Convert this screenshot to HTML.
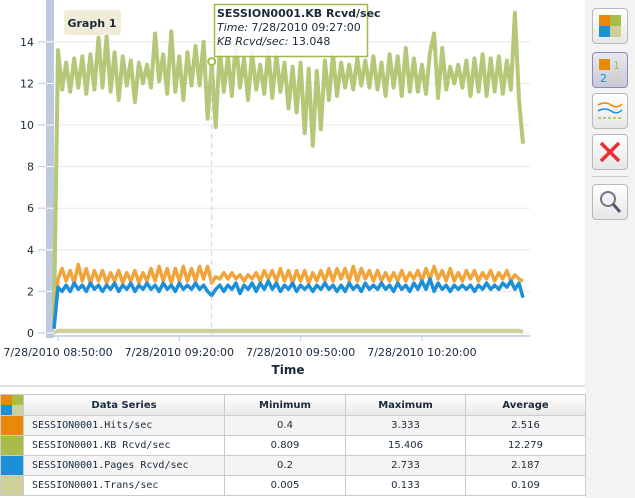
<!DOCTYPE html>
<html><head><meta charset="utf-8">
<style>
body{margin:0;width:635px;height:498px;overflow:hidden;background:#fff;font-family:"DejaVu Sans","Liberation Sans",sans-serif;}
#tb{position:absolute;left:585px;top:0;width:50px;height:498px;background:#f3f3f3;}
.btn{position:absolute;left:7px;width:34px;height:34px;border:1px solid #b8b8b8;border-radius:4px;background:linear-gradient(#fff,#e6e6e6);}
table{position:absolute;left:0;top:394px;border-collapse:collapse;font-size:10px;color:#1a2a3a;table-layout:fixed;}
td,th{height:19px;padding:0;border:1px solid #c8cccc;text-align:center;overflow:hidden;}
th{height:20px;background:linear-gradient(#fff,#e8e8e8);font-weight:bold;}
td.n{text-align:left;padding-left:8px;font-family:"DejaVu Sans Mono","Liberation Mono",monospace;font-size:10px;}
</style></head><body>
<svg id="chart" width="585" height="390" style="position:absolute;left:0;top:0" font-family="DejaVu Sans, Liberation Sans, sans-serif"></svg>
<div id="tb">
 <div class="btn" style="top:8px"><svg width="34" height="34"><rect x="6" y="6" width="11" height="11" fill="#e8890c"/><rect x="17" y="6" width="11" height="11" fill="#a8bc4c"/><rect x="6" y="17" width="11" height="11" fill="#1b8fd8"/><rect x="17" y="17" width="11" height="11" fill="#cfcf9c"/></svg></div>
 <div class="btn" style="top:52px;border-color:#8a8ab8;background:linear-gradient(#e8e8f0,#c8c8d8)"><svg width="34" height="34"><rect x="6" y="6" width="11" height="11" fill="#e8890c"/><text x="20" y="16" font-size="11" fill="#a8bc4c">1</text><text x="7" y="29" font-size="11" fill="#1b8fd8">2</text><text x="20" y="29" font-size="11" fill="#cfcf9c">3</text></svg></div>
 <div class="btn" style="top:93px"><svg width="34" height="34"><path d="M5 11 Q12 7 18 11 T29 10" stroke="#e8890c" fill="none" stroke-width="1.5"/><path d="M5 17 Q12 13 18 17 T29 16" stroke="#1b8fd8" fill="none" stroke-width="1.5"/><path d="M5 24 H29" stroke="#a8bc4c" stroke-dasharray="3,2" stroke-width="1.5"/></svg></div>
 <div class="btn" style="top:134px"><svg width="34" height="34"><path d="M8 8 L26 26 M26 8 L8 26" stroke="#e83030" stroke-width="3.5"/></svg></div>
 <div style="position:absolute;left:7px;top:176px;width:36px;height:1px;background:#ccc"></div>
 <div class="btn" style="top:184px"><svg width="34" height="34"><circle cx="15" cy="14" r="7" fill="#eef4fc" stroke="#777" stroke-width="2"/><path d="M20 19 L27 27" stroke="#557" stroke-width="3"/></svg></div>
</div>
<div style="position:absolute;left:0;top:385px;width:585px;height:2px;background:#dde2e2"></div>
<table>
<tr><th style="width:22px;padding:0;background:none"><svg width="22" height="20" style="display:block"><rect width="11" height="10" fill="#e8890c"/><rect x="11" width="11" height="10" fill="#a8bc4c"/><rect y="10" width="11" height="10" fill="#1b8fd8"/><rect x="11" y="10" width="11" height="10" fill="#cfcf9c"/></svg></th><th style="width:200px">Data Series</th><th style="width:120px">Minimum</th><th style="width:119px">Maximum</th><th style="width:119px">Average</th></tr>
<tr style="background:#f4f4f4"><td style="background:#e8890c"></td><td class="n">SESSION0001.Hits/sec</td><td>0.4</td><td>3.333</td><td>2.516</td></tr>
<tr><td style="background:#a8bc4c"></td><td class="n">SESSION0001.KB Rcvd/sec</td><td>0.809</td><td>15.406</td><td>12.279</td></tr>
<tr style="background:#f4f4f4"><td style="background:#1b8fd8"></td><td class="n">SESSION0001.Pages Rcvd/sec</td><td>0.2</td><td>2.733</td><td>2.187</td></tr>
<tr><td style="background:#cfcf9c"></td><td class="n">SESSION0001.Trans/sec</td><td>0.005</td><td>0.133</td><td>0.109</td></tr>
</table>
<script>
const yTicks=[0,2,4,6,8,10,12,14];
const xTickMinutes=[1,31,61,91];
const xTickLabels=["7/28/2010 08:50:00","7/28/2010 09:20:00","7/28/2010 09:50:00","7/28/2010 10:20:00"];
const kbVals=[0.8,13.6,11.7,13.0,11.6,13.2,11.8,13.3,11.5,13.4,11.7,14.2,11.8,14.3,11.6,13.5,11.2,13.3,11.9,13.1,11.1,13.0,12.0,12.9,11.8,14.4,12.1,13.4,11.5,14.5,11.6,13.3,11.2,13.5,11.9,13.8,11.9,14.0,10.3,13.0,9.9,13.7,11.6,13.3,11.4,14.1,11.8,13.2,11.2,13.5,11.7,12.9,11.5,13.6,11.3,13.4,11.6,13.0,10.8,12.8,10.6,13.0,9.6,12.7,9.0,12.6,9.8,13.1,11.2,13.4,11.4,13.0,11.8,12.9,11.7,13.2,11.9,13.1,11.8,13.3,11.7,13.0,11.4,13.4,11.8,13.3,11.4,13.7,11.6,13.2,11.6,12.9,11.5,13.5,14.4,11.3,13.7,11.7,12.8,12.0,12.9,11.8,13.1,11.4,13.2,11.6,13.4,11.4,13.2,11.6,13.3,11.5,13.1,11.7,15.4,11.2,9.1];
const hitsVals=[0.4,2.6,3.1,2.5,3.0,2.4,3.3,2.5,3.1,2.4,3.0,2.5,3.0,2.4,2.9,2.5,3.0,2.4,2.9,2.5,3.0,2.4,2.9,2.5,3.1,2.5,3.2,2.5,3.1,2.4,3.1,2.5,3.2,2.5,3.1,2.5,3.2,2.6,3.2,2.4,2.7,2.6,2.9,2.6,2.9,2.6,2.8,2.5,2.8,2.6,2.9,2.5,3.0,2.6,3.0,2.5,3.1,2.5,3.0,2.4,3.0,2.5,3.0,2.4,2.9,2.5,3.0,2.5,3.1,2.5,3.1,2.6,3.1,2.5,3.2,2.5,3.1,2.6,3.0,2.5,3.0,2.5,2.9,2.5,2.9,2.5,3.0,2.5,2.9,2.6,3.0,2.5,3.1,2.6,3.2,2.6,3.0,2.5,3.1,2.5,2.9,2.5,3.0,2.6,3.0,2.5,2.9,2.6,3.0,2.5,2.9,2.6,3.0,2.5,2.8,2.6,2.5];
const pagesVals=[0.2,2.2,2.0,2.3,2.0,2.4,2.1,2.3,2.0,2.4,2.1,2.3,2.0,2.3,2.1,2.4,2.0,2.3,2.1,2.4,2.0,2.3,2.1,2.4,2.1,2.3,2.0,2.4,2.1,2.3,2.0,2.4,2.1,2.3,2.1,2.4,2.1,2.3,2.0,1.8,2.1,2.3,2.0,2.3,2.1,2.4,1.9,2.3,2.1,2.4,2.0,2.4,2.1,2.5,2.1,2.4,2.0,2.3,2.1,2.4,2.0,2.3,2.1,2.3,2.0,2.3,2.1,2.4,2.1,2.3,2.0,2.3,2.0,2.4,2.1,2.3,2.0,2.4,2.1,2.3,2.1,2.4,2.1,2.3,2.0,2.4,2.1,2.3,2.0,2.4,2.1,2.5,2.1,2.6,2.0,2.4,2.1,2.3,2.0,2.3,2.1,2.3,2.1,2.3,2.0,2.3,2.1,2.4,2.1,2.3,2.1,2.4,2.2,2.5,2.1,2.4,1.7];
const transVals=[0.005,0.11,0.11,0.11,0.11,0.11,0.11,0.11,0.11,0.11,0.11,0.11,0.11,0.11,0.11,0.11,0.11,0.11,0.11,0.11,0.11,0.11,0.11,0.11,0.11,0.11,0.11,0.11,0.11,0.11,0.11,0.11,0.11,0.11,0.11,0.11,0.11,0.11,0.11,0.11,0.11,0.11,0.11,0.11,0.11,0.11,0.11,0.11,0.11,0.11,0.11,0.11,0.11,0.11,0.11,0.11,0.11,0.11,0.11,0.11,0.11,0.11,0.11,0.11,0.11,0.11,0.11,0.11,0.11,0.11,0.11,0.11,0.11,0.11,0.11,0.11,0.11,0.11,0.11,0.11,0.11,0.11,0.11,0.11,0.11,0.11,0.11,0.11,0.11,0.11,0.11,0.11,0.11,0.11,0.11,0.11,0.11,0.11,0.11,0.11,0.11,0.11,0.11,0.11,0.11,0.11,0.11,0.11,0.11,0.11,0.11,0.11,0.11,0.11,0.11,0.11,0.05];
const hoverIndex=39;
const hoverValue=13.048;

const NS="http://www.w3.org/2000/svg";
const svg=document.getElementById('chart');
const X=m=>54+m*(121.3/30);
const Y=v=>333-v*20.8;
function mk(t,a,p){const e=document.createElementNS(NS,t);for(const k in a)e.setAttribute(k,a[k]);(p||svg).appendChild(e);return e;}
let strip=mk('rect',{x:46,y:0,width:8,height:338,fill:'#bccadb'});


for(const t of yTicks){
  const g=mk('line',{x1:55,x2:530,y1:Y(t),y2:Y(t),stroke:'#e8e8e8'});
  
  
  mk('line',{x1:46,x2:54,y1:Y(t),y2:Y(t),stroke:'#fff','stroke-width':1});
  mk('line',{x1:38,x2:46,y1:Y(t),y2:Y(t),stroke:'#bccadb'});
  const l=mk('text',{x:34,y:Y(t)+4,'text-anchor':'end','font-size':11,fill:'#1a2a3a'});
  l.textContent=t;
  
  
}
const ax=mk('line',{x1:46,x2:530,y1:336,y2:336,stroke:'#bccadb','stroke-width':1.5});


xTickMinutes.forEach((m,i)=>{
  mk('line',{x1:X(m),x2:X(m),y1:336,y2:341,stroke:'#bccadb'});
  const l=mk('text',{x:X(m),y:356,'text-anchor':'middle','font-size':11,fill:'#1a2a3a'});
  l.textContent=xTickLabels[i];
  
  
});
const xt=mk('text',{x:288,y:374,'text-anchor':'middle','font-size':12,'font-weight':'bold',fill:'#1a2a3a'});
xt.textContent='Time';


function line(vals,color,w,name){
  const d=vals.map((v,i)=>(i?'L':'M')+X(i).toFixed(1)+' '+Y(v).toFixed(1)).join(' ');
  const p=mk('path',{d:d,fill:'none',stroke:color,'stroke-width':w,'stroke-linejoin':'round'});
  
  
}
line(transVals,'#cfcf9c',4,'series-trans');
line(kbVals,'#b4c878',4,'series-kb-rcvd');
line(hitsVals,'#f0a43a',3.5,'series-hits');
line(pagesVals,'#1b8fd8',3.5,'series-pages-rcvd');
const hx=X(hoverIndex),hy=Y(hoverValue);
const hl=mk('line',{x1:hx,x2:hx,y1:hy,y2:336,stroke:'#ccc','stroke-dasharray':'5,4'});


mk('circle',{cx:hx,cy:hy,r:3.5,fill:'#fff',stroke:'#a8bc4c','stroke-width':2});
const gl=mk('rect',{x:64,y:10,width:57,height:25,rx:3,fill:'#f0ecd8'});


const gt=mk('text',{x:92,y:27,'text-anchor':'middle','font-size':11,'font-weight':'bold',fill:'#1a2a3a'});
gt.textContent='Graph 1';
const tt=mk('rect',{x:214.5,y:4.5,width:153,height:52,fill:'#fff','fill-opacity':0.88,stroke:'#a4b84a','stroke-width':1.5});


const t1=mk('text',{x:217,y:17,'font-size':11,'font-weight':'bold',fill:'#1a2a3a'});t1.textContent='SESSION0001.KB Rcvd/sec';
const t2=mk('text',{x:217,y:31,'font-size':11,fill:'#1a2a3a'});t2.innerHTML='<tspan font-style="italic">Time:</tspan> 7/28/2010 09:27:00';
const t3=mk('text',{x:217,y:45,'font-size':11,fill:'#1a2a3a'});t3.innerHTML='<tspan font-style="italic">KB Rcvd/sec:</tspan> '+hoverValue;
</script>
</body></html>
